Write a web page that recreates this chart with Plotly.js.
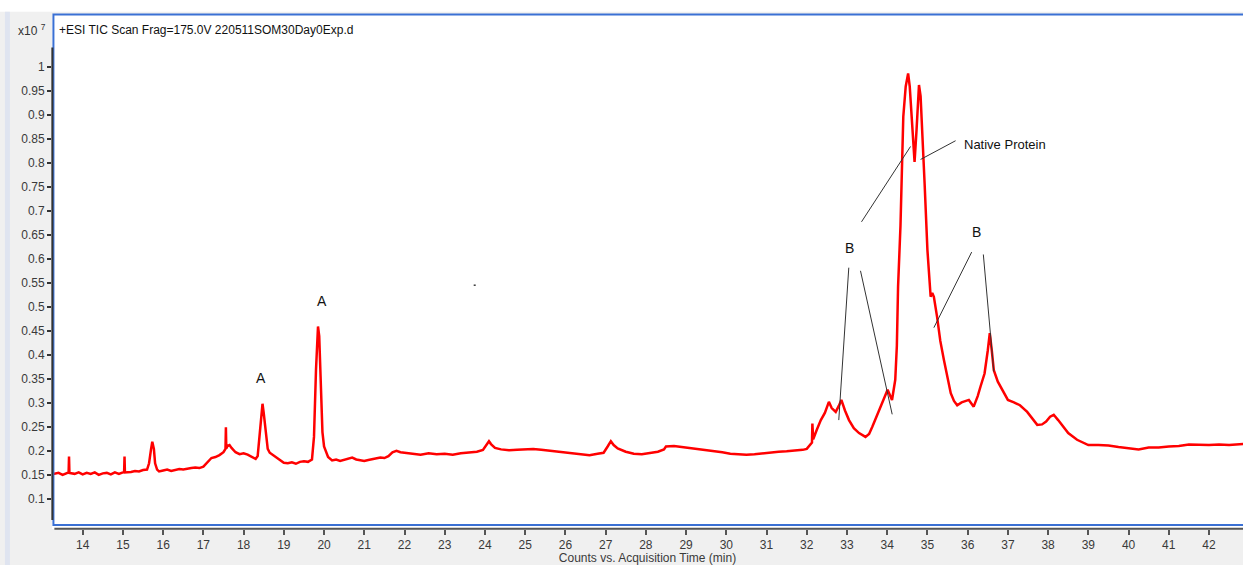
<!DOCTYPE html>
<html>
<head>
<meta charset="utf-8">
<script src="https://cdn.plot.ly/plotly-3.0.1.min.js"></script>
<style>
html,body{margin:0;padding:0;background:#f0f0f0;}
#chart{width:1243px;height:565px;}
</style>
</head>
<body>
<div id="chart"></div>
<script>
// Retention time (min)
var timeMin = [13.24,13.4,13.5,13.6,13.65,13.66,13.67,13.8,13.9,14.0,14.1,14.2,14.3,14.4,14.5,14.6,14.7,14.8,14.9,15.0,15.03,15.04,15.05,15.2,15.3,15.4,15.5,15.6,15.65,15.7,15.73,15.77,15.8,15.85,15.9,16.0,16.1,16.2,16.3,16.4,16.5,16.6,16.7,16.8,16.9,17.0,17.1,17.2,17.3,17.4,17.5,17.55,17.56,17.57,17.6,17.65,17.7,17.8,17.9,18.0,18.1,18.2,18.3,18.35,18.4,18.45,18.47,18.5,18.55,18.6,18.65,18.7,18.8,18.9,19.0,19.1,19.2,19.3,19.4,19.5,19.6,19.7,19.75,19.8,19.85,19.88,19.92,19.96,20.0,20.05,20.1,20.2,20.3,20.4,20.5,20.6,20.7,20.8,20.9,21.0,21.1,21.2,21.3,21.4,21.5,21.6,21.7,21.8,21.9,22.0,22.2,22.4,22.6,22.8,23.0,23.2,23.4,23.6,23.8,23.95,24.05,24.1,24.15,24.25,24.4,24.6,24.8,25.0,25.2,25.4,25.6,25.8,26.0,26.2,26.4,26.6,26.8,26.95,27.05,27.13,27.2,27.3,27.5,27.7,27.9,28.1,28.3,28.45,28.5,28.7,28.9,29.1,29.3,29.5,29.7,29.9,30.1,30.3,30.5,30.7,30.9,31.1,31.3,31.5,31.7,31.9,32.0,32.1,32.13,32.14,32.16,32.25,32.35,32.45,32.55,32.62,32.72,32.8,32.86,32.95,33.05,33.17,33.3,33.46,33.55,33.63,33.75,33.88,33.95,34.01,34.12,34.2,34.24,34.27,34.33,34.4,34.46,34.52,34.56,34.6,34.64,34.68,34.73,34.79,34.83,34.87,34.93,35.0,35.08,35.12,35.16,35.24,35.32,35.41,35.5,35.58,35.66,35.74,35.85,35.95,36.03,36.15,36.25,36.32,36.42,36.5,36.55,36.6,36.65,36.75,36.9,37.0,37.15,37.3,37.48,37.6,37.73,37.85,37.95,38.05,38.14,38.25,38.35,38.5,38.72,38.9,39.0,39.25,39.5,39.75,40.0,40.25,40.5,40.75,41.0,41.25,41.5,41.75,42.0,42.25,42.5,42.85];
// Counts (x10^7)
var counts = [0.152,0.155,0.151,0.154,0.156,0.189,0.155,0.153,0.156,0.152,0.155,0.153,0.156,0.151,0.154,0.155,0.152,0.156,0.153,0.156,0.157,0.189,0.156,0.157,0.159,0.158,0.161,0.162,0.175,0.205,0.22,0.205,0.175,0.162,0.158,0.160,0.162,0.159,0.161,0.163,0.162,0.164,0.165,0.166,0.165,0.168,0.178,0.186,0.188,0.192,0.198,0.205,0.25,0.206,0.211,0.213,0.207,0.198,0.194,0.196,0.193,0.188,0.184,0.19,0.23,0.285,0.299,0.28,0.235,0.205,0.197,0.194,0.188,0.182,0.176,0.175,0.177,0.174,0.178,0.179,0.178,0.183,0.23,0.37,0.46,0.44,0.33,0.24,0.21,0.2,0.188,0.181,0.183,0.180,0.182,0.184,0.187,0.183,0.181,0.180,0.182,0.184,0.185,0.187,0.186,0.190,0.198,0.201,0.198,0.197,0.195,0.193,0.196,0.194,0.195,0.193,0.196,0.197,0.199,0.203,0.215,0.221,0.215,0.207,0.204,0.202,0.203,0.204,0.205,0.203,0.201,0.199,0.197,0.196,0.194,0.192,0.195,0.197,0.21,0.221,0.213,0.206,0.199,0.195,0.194,0.196,0.199,0.204,0.210,0.211,0.209,0.207,0.205,0.203,0.201,0.198,0.195,0.194,0.193,0.194,0.196,0.197,0.199,0.200,0.201,0.203,0.205,0.215,0.218,0.258,0.225,0.245,0.265,0.28,0.303,0.29,0.282,0.295,0.307,0.285,0.265,0.248,0.238,0.230,0.236,0.251,0.275,0.303,0.315,0.328,0.307,0.349,0.42,0.543,0.67,0.897,0.96,0.987,0.96,0.911,0.85,0.803,0.87,0.963,0.94,0.876,0.758,0.619,0.522,0.53,0.522,0.48,0.43,0.39,0.35,0.321,0.305,0.296,0.302,0.305,0.307,0.293,0.315,0.335,0.362,0.41,0.446,0.41,0.369,0.345,0.321,0.307,0.302,0.296,0.282,0.268,0.255,0.256,0.262,0.272,0.276,0.265,0.255,0.238,0.224,0.216,0.213,0.213,0.212,0.209,0.206,0.204,0.208,0.208,0.210,0.211,0.214,0.213,0.213,0.214,0.213,0.215];

var yTickVals = [0.1,0.15,0.2,0.25,0.3,0.35,0.4,0.45,0.5,0.55,0.6,0.65,0.7,0.75,0.8,0.85,0.9,0.95,1];
var yTickText = ['0.1','0.15','0.2','0.25','0.3','0.35','0.4','0.45','0.5','0.55','0.6','0.65','0.7','0.75','0.8','0.85','0.9','0.95','1'];
var xTickVals = [14,15,16,17,18,19,20,21,22,23,24,25,26,27,28,29,30,31,32,33,34,35,36,37,38,39,40,41,42];

var peakLabels = ['A','A','B','B','Native Protein'];
var labelX = [18.435,19.95,33.06,36.22,35.86];
var labelY = [0.353,0.513,0.624,0.657,0.839];

var F = 'Liberation Sans, Arial, sans-serif';
var tickFont = {family:F, size:12, color:'#3a3a3a'};

var trace = {
  x: timeMin, y: counts, type:'scatter', mode:'lines',
  line:{color:'#ff0000', width:2.5}, hoverinfo:'x+y'
};

function lineShape(x0,y0,x1,y1){
  return {type:'line', xref:'x', yref:'y', x0:x0, y0:y0, x1:x1, y1:y1,
          line:{color:'#333333', width:1}};
}

var shapes = [
  {type:'rect', xref:'paper', yref:'paper', x0:-0.05, x1:1.01, y0:1.0045, y1:1.03, fillcolor:'#ffffff', line:{width:0}, layer:'below'},
  {type:'rect', xref:'paper', yref:'paper', x0:-0.0395, x1:-0.0353, y0:-0.08, y1:1.0045, fillcolor:'#dfe4f0', line:{width:0}, layer:'below'},
  {type:'rect', xref:'paper', yref:'paper', x0:0.0012, x1:1.01, y0:0.0078, y1:0.999, fillcolor:'rgba(0,0,0,0)', line:{color:'#3a70d4', width:2}},
  {type:'line', xref:'paper', yref:'paper', x0:0.0003, x1:0.0003, y0:0.0175, y1:0.935, line:{color:'#333333', width:2}},
  {type:'line', xref:'paper', yref:'paper', x0:0.002, x1:1.01, y0:0.0005, y1:0.0005, line:{color:'#555555', width:2}},
  lineShape(33.045,0.5825,32.796,0.265),
  lineShape(33.336,0.576,34.124,0.277),
  lineShape(33.361,0.678,34.58,0.835),
  lineShape(35.70,0.847,34.83,0.808),
  lineShape(36.10,0.615,35.16,0.4575),
  lineShape(36.39,0.610,36.65,0.366),
  {type:'rect', xref:'x', yref:'y', x0:23.72, x1:23.77, y0:0.5445, y1:0.5475, fillcolor:'#333', line:{width:0}}
];

var annotations = [];
for (var i=0;i<peakLabels.length;i++){
  annotations.push({x:labelX[i], y:labelY[i], xref:'x', yref:'y', text:peakLabels[i], showarrow:false,
    xanchor: i===4 ? 'left' : 'center', yanchor:'middle',
    font:{family:F, size: i===4 ? 13 : 14, color:'#111111'}});
}
annotations.push({xref:'paper', yref:'paper', x:0.004, y:0.9685, xanchor:'left', yanchor:'middle',
  text:'+ESI TIC Scan Frag=175.0V 220511SOM30Day0Exp.d', showarrow:false, font:{family:F, size:12, color:'#111'}});
annotations.push({xref:'paper', yref:'paper', x:-0.0035, y:0.9685, xanchor:'right', yanchor:'middle',
  text:'x10 <sup>7</sup>', showarrow:false, font:{family:F, size:12, color:'#333'}});

var layout = {
  width:1243, height:565,
  margin:{l:52, r:0, t:14, b:36, pad:0},
  paper_bgcolor:'#f0f0f0', plot_bgcolor:'#ffffff',
  showlegend:false,
  xaxis:{range:[13.237,42.845], tickvals:xTickVals, ticks:'outside', ticklen:5, tickwidth:2, tickcolor:'#555',
    showgrid:false, zeroline:false, showline:false, tickfont:tickFont,
    title:{text:'Counts vs. Acquisition Time (min)', font:{family:F, size:12, color:'#3a3a3a'}, standoff:3}},
  yaxis:{range:[0.0381,1.111], tickvals:yTickVals, ticktext:yTickText, ticks:'outside', ticklen:4, tickwidth:2, tickcolor:'#333',
    showgrid:false, zeroline:false, showline:false, tickfont:tickFont},
  shapes:shapes, annotations:annotations
};

Plotly.newPlot('chart',[trace],layout,{displayModeBar:false, staticPlot:true});
</script>
</body>
</html>
